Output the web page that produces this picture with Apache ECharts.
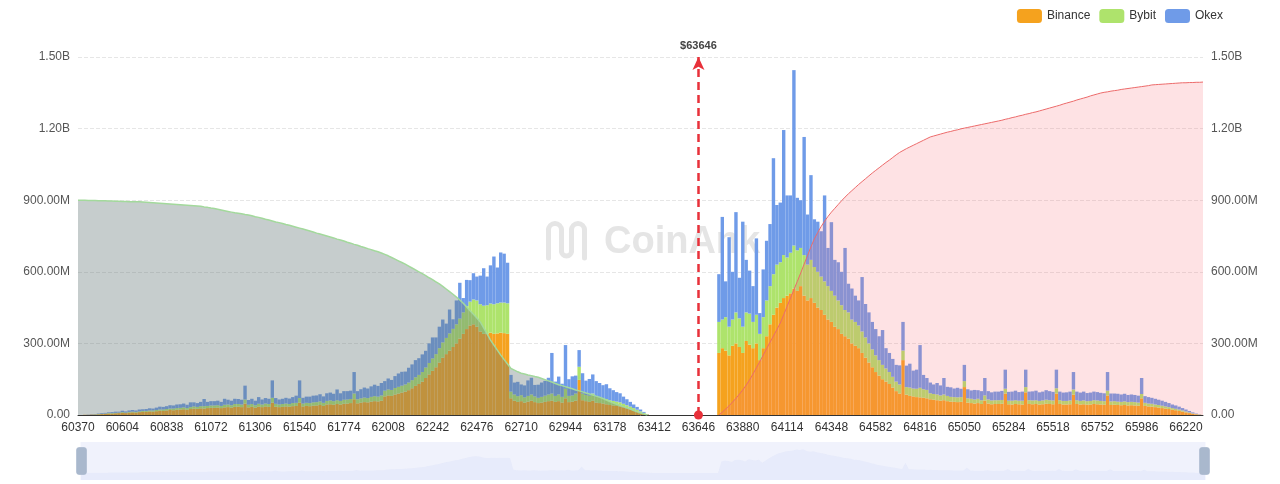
<!DOCTYPE html>
<html><head><meta charset="utf-8">
<script src="https://cdn.jsdelivr.net/npm/echarts/dist/echarts.min.js"></script>
<style>html,body{margin:0;padding:0;background:#fff}#c{width:1280px;height:484px}</style>
</head><body><div id="c"></div>
<script>
// price levels: start + step (category axis)
const PRICE_START = 60370;
const PRICE_STEP = 18;
const CURRENT_PRICE = '63646';
const LABEL_EVERY = 13; // 13 * 18 = 234 USD between tick labels

// liquidation leverage per price level, in millions USD
const binance = [
0,0,1,1,2,2,3,4,5,6,
6,7,8,9,8,10,11,10,12,13,
13,15,14,16,18,17,19,21,20,22,
23,24,22,25,27,26,28,27,29,30,
30,31,29,32,33,31,34,35,33,48,
32,34,31,35,33,36,34,52,35,33,
34,36,35,37,38,52,36,38,37,39,
40,42,38,44,45,43,46,44,47,48,
50,66,49,52,54,53,56,58,57,60,
78,82,80,86,90,94,98,104,112,122,
130,140,155,170,185,200,220,240,255,270,
285,300,320,340,360,375,380,370,350,340,
340,345,340,342,345,343,340,70,60,55,
58,52,56,60,54,50,52,55,58,60,
55,58,52,70,54,56,60,147,62,58,
55,60,52,50,48,45,42,40,38,36,
32,28,24,20,15,10,6,2,0,0,
0,0,0,0,0,0,0,0,0,0,
0,0,0,0,0,0,0,0,260,280,
270,250,290,300,285,260,310,295,280,300,
230,280,330,380,420,450,470,490,500,510,
530,520,540,500,480,490,470,450,440,420,
400,390,370,360,340,330,320,300,290,280,
260,240,220,200,180,165,150,140,130,115,
100,90,230,85,80,78,75,74,72,70,
66,64,62,60,62,58,56,55,54,55,
117,52,50,48,50,46,60,48,45,46,
46,47,90,45,44,46,45,44,95,46,
45,46,44,45,47,46,45,90,46,44,
44,45,85,46,44,45,43,44,46,45,
44,43,82,42,43,42,41,42,40,41,
40,39,70,38,36,35,33,31,29,27,
25,22,20,17,14,11,8,5,3,1,0];

const bybit = [
0,0,0,0,0,1,1,1,1,2,
2,2,2,3,2,3,3,3,3,4,
4,4,5,5,5,6,6,6,7,7,
7,8,7,8,9,8,9,10,9,10,
10,10,9,11,11,10,12,11,11,17,
11,12,10,12,11,12,12,20,12,11,
12,12,11,13,13,19,12,13,13,14,
14,15,13,15,16,15,16,15,17,17,
17,24,17,18,19,18,20,21,20,22,
24,25,25,27,28,29,30,32,34,36,
38,40,44,48,52,55,60,64,68,72,
76,80,84,90,96,100,104,110,114,118,
120,122,124,126,126,128,128,28,26,24,
25,22,24,26,24,22,24,26,28,30,
25,28,24,40,26,26,30,55,28,26,
26,30,25,24,22,22,20,19,18,17,
15,13,11,9,7,5,3,1,0,0,
0,0,0,0,0,0,0,0,0,0,
0,0,0,0,0,0,0,0,130,120,
140,120,110,130,120,110,120,130,110,120,
110,130,150,160,170,180,170,180,160,170,
180,170,160,170,150,160,150,150,140,140,
140,130,130,120,120,110,110,100,100,95,
90,85,80,75,70,65,60,55,50,45,
40,38,40,32,35,33,35,40,36,35,
25,24,24,22,24,22,20,20,20,20,
25,18,18,17,18,16,22,17,16,16,
16,16,20,15,16,16,15,16,22,16,
16,16,15,16,17,16,16,22,16,15,
15,16,22,16,15,16,15,15,16,16,
15,15,20,15,15,14,14,15,14,14,
14,13,18,13,12,12,11,11,10,9,
8,7,6,6,5,4,3,2,1,1,0];

const okex = [
0,0,0,1,1,1,2,3,3,3,
4,5,4,6,5,6,7,6,8,7,
8,9,8,10,12,11,12,14,13,15,
15,16,14,20,17,16,18,30,17,18,
18,19,17,25,20,19,22,21,20,58,
20,22,19,28,21,23,22,73,24,21,
22,24,23,25,30,74,24,26,27,28,
28,30,27,32,33,31,45,32,36,35,
35,90,34,38,42,40,44,48,45,52,
40,46,42,50,56,58,54,62,66,72,
70,74,70,82,88,70,90,96,60,100,
40,100,150,60,110,90,110,100,120,157,
120,160,200,150,210,205,170,70,50,60,
45,50,65,70,48,55,60,62,70,170,
60,75,55,183,70,80,75,70,85,60,
70,80,65,60,55,62,50,45,40,38,
30,25,20,15,12,8,4,1,0,0,
0,0,0,0,0,0,0,0,0,0,
0,0,0,0,0,0,0,0,200,430,
150,375,200,420,170,440,220,180,150,320,
87,200,250,260,486,250,250,524,260,240,
735,220,200,495,210,355,200,210,190,360,
160,288,150,160,140,260,120,130,110,105,
228,140,130,115,110,100,146,85,80,75,
70,80,120,90,100,75,80,179,60,50,
45,40,48,42,69,38,40,36,40,35,
68,38,35,40,36,38,73,35,34,36,
36,38,80,37,38,40,36,38,73,36,
38,40,36,37,40,38,36,78,36,35,
36,37,73,36,35,37,34,35,36,35,
34,33,78,33,32,33,31,32,30,31,
30,29,67,28,27,25,24,22,21,19,
17,15,14,12,10,8,6,4,2,1,0];

// cumulative short liquidations (left, from first level), millions
const shortCum = [
900,900,900,899,899,899,898,898,898,897,897,896,896,895,895,
894,894,893,893,892,891,890,889,888,887,886,885,884,
883,882,881,880,879,878,877,876,875,
872,870,867,865,862,859,856,853,850,847,845,843,840,838,
835,831,828,824,820,817,813,809,806,802,798,795,791,787,783,
779,775,771,767,762,758,754,750,746,742,737,733,
729,724,720,715,711,706,702,697,693,688,684,679,
673,667,660,653,646,639,632,624,616,608,600,
592,584,575,567,558,549,
539,528,517,506,494,482,
468,453,437,422,406,390,
365,340,314,
293,272,251,
232,214,195,
188,181,175,
172,168,165,161,158,
153,148,143,138,132,127,
123,118,114,110,105,101,
97,92,88,84,79,75,
69,63,56,50,
45,40,35,30,25,
19,13,8,4,0];

// cumulative long liquidations (right), starting at level index 188, millions
const LONG_CUM_START = 188;
const longCum = [
0,
12,25,39,54,70,87,105,125,147,
172,198,224,251,278,305,331,358,385,
420,455,490,525,560,595,
632,668,705,738,
765,790,812,832,850,866,
882,898,913,927,940,953,966,
978,990,1002,1014,1025,1036,1047,1058,1068,1079,1090,1100,
1108,1116,1123,1130,1137,1144,1151,1158,1165,
1169,1173,1177,1181,1185,1188,1192,1195,1199,1202,1205,1208,1211,1214,1217,1220,1223,1226,1229,1232,
1235,1239,1242,1246,1249,1253,1256,1260,1263,1267,1270,1274,1278,1282,1286,
1290,1294,1298,1303,1307,1311,1315,1320,1324,1328,1332,1337,1341,1345,1349,
1352,1354,1357,1359,1361,1364,1366,1368,1370,1372,1374,1376,1378,1380,1383,
1384,1385,1386,1387,1388,1389,1390,1391,1392,1392,1393,1393,1394,1394,1395];

const N = binance.length;
const categories = [];
for (let i = 0; i < N; i++) categories.push(String(PRICE_START + PRICE_STEP * i));
const shortLine = categories.map((_, i) => i < shortCum.length ? shortCum[i] : null);
const longLine = categories.map((_, i) => i >= LONG_CUM_START ? longCum[i - LONG_CUM_START] : null);

function yFmt(v) {
  if (v === 0) return '0.00';
  if (v >= 1000) return (v / 1000).toFixed(2) + 'B';
  return v.toFixed(2) + 'M';
}

const FONT = '"Liberation Sans", Arial, sans-serif';
const chart = echarts.init(document.getElementById('c'));
const barCommon = { type: 'bar', stack: 'liq', barCategoryGap: '0%', yAxisIndex: 0, zlevel: 1, z: 5, silent: true };

const wmStroke = { stroke: '#e5e5e5', lineWidth: 5, fill: 'none', lineCap: 'round' };
const logo = {
  type: 'group', left: 546, top: 221, zlevel: 0, z: 0, silent: true,
  children: [
    { type: 'line', shape: { x1: 4, y1: 38, x2: 4, y2: 10 }, style: wmStroke },
    { type: 'arc', shape: { cx: 10.5, cy: 10, r: 6.5, startAngle: Math.PI, endAngle: 2 * Math.PI }, style: wmStroke },
    { type: 'line', shape: { x1: 17, y1: 10, x2: 17, y2: 31 }, style: wmStroke },
    { type: 'arc', shape: { cx: 22, cy: 31, r: 5, startAngle: 0, endAngle: Math.PI }, style: wmStroke },
    { type: 'line', shape: { x1: 27, y1: 31, x2: 27, y2: 10 }, style: wmStroke },
    { type: 'arc', shape: { cx: 33.5, cy: 10, r: 6.5, startAngle: Math.PI, endAngle: 2 * Math.PI }, style: wmStroke },
    { type: 'line', shape: { x1: 40, y1: 10, x2: 40, y2: 38 }, style: wmStroke }
  ]
};

chart.setOption({
  animation: false,
  textStyle: { fontFamily: FONT },
  legend: {
    data: ['Binance', 'Bybit', 'Okex'],
    right: 52, top: 4, icon: 'roundRect', itemWidth: 25, itemHeight: 14, itemGap: 9,
    textStyle: { fontSize: 12, color: '#333', fontFamily: FONT }
  },
  grid: { left: 78, right: 77, top: 57, bottom: 69 },
  graphic: [
    logo,
    { type: 'text', left: 604, top: 224, zlevel: 0, z: 0, silent: true,
      style: { text: 'CoinAnk', fontSize: 38, fontWeight: 'bold', fill: '#e5e5e5', fontFamily: FONT } }
  ],
  xAxis: {
    type: 'category', data: categories, boundaryGap: false,
    axisLine: { lineStyle: { color: '#333', width: 1 } },
    axisTick: { show: false },
    axisLabel: { interval: LABEL_EVERY - 1, color: '#333', fontSize: 12, margin: 7, fontFamily: FONT }
  },
  yAxis: [
    { type: 'value', min: 0, max: 1500, interval: 300, position: 'left',
      axisLabel: { formatter: yFmt, color: '#555', fontSize: 12, margin: 8, fontFamily: FONT },
      splitLine: { lineStyle: { color: '#e6e6e6', type: 'dashed' } },
      axisLine: { show: false }, axisTick: { show: false } },
    { type: 'value', min: 0, max: 1500, interval: 300, position: 'right',
      axisLabel: { formatter: yFmt, color: '#555', fontSize: 12, margin: 8, fontFamily: FONT },
      splitLine: { show: false }, axisLine: { show: false }, axisTick: { show: false } }
  ],
  dataZoom: [{
    type: 'slider', xAxisIndex: 0, start: 0, end: 100,
    left: 78, right: 77, bottom: 4, height: 38,
    showDetail: false, brushSelect: false, moveHandleSize: 0,
    borderColor: 'transparent', backgroundColor: 'rgba(0,0,0,0)',
    fillerColor: 'rgba(165,178,235,0.17)',
    dataBackground: { lineStyle: { opacity: 0 }, areaStyle: { color: 'rgba(165,178,235,0.12)', opacity: 1 } },
    selectedDataBackground: { lineStyle: { opacity: 0 }, areaStyle: { color: 'rgba(165,178,235,0.12)', opacity: 1 } },
    handleIcon: 'path://M2,0 L8,0 Q10,0 10,2 L10,26 Q10,28 8,28 L2,28 Q0,28 0,26 L0,2 Q0,0 2,0 Z',
    handleSize: '70%',
    handleStyle: { color: '#a9b8cd', borderColor: '#a9b8cd' }
  }],
  series: [
    Object.assign({ name: 'Binance', data: binance, itemStyle: { color: '#f5a21e' } }, barCommon),
    Object.assign({ name: 'Bybit', data: bybit, itemStyle: { color: '#aee36c' } }, barCommon),
    Object.assign({ name: 'Okex', data: okex, itemStyle: { color: '#6f9be8' } }, barCommon),
    { name: 'Short cumulative', type: 'line', data: shortLine, yAxisIndex: 1, zlevel: 1, z: 6, silent: true,
      showSymbol: false, symbol: 'none',
      lineStyle: { color: '#a3d99c', width: 1.5 },
      areaStyle: { color: 'rgba(100,120,120,0.37)', opacity: 1 } },
    { name: 'Long cumulative', type: 'line', data: longLine, yAxisIndex: 1, zlevel: 1, z: 6, silent: true,
      showSymbol: false, symbol: 'none',
      lineStyle: { color: '#ec6b6b', width: 1 },
      areaStyle: { color: 'rgba(250,110,120,0.2)', opacity: 1 },
      markLine: {
        silent: true, animation: false,
        symbol: ['circle', 'arrow'], symbolSize: [9, 13],
        lineStyle: { color: '#e8313a', type: [8, 5], width: 2.5 },
        label: { show: true, position: 'end', formatter: '$' + CURRENT_PRICE, color: '#444', fontWeight: 'bold', fontSize: 11, distance: 6, fontFamily: FONT },
        data: [{ xAxis: CURRENT_PRICE }]
      } }
  ]
});
</script>
</body></html>
